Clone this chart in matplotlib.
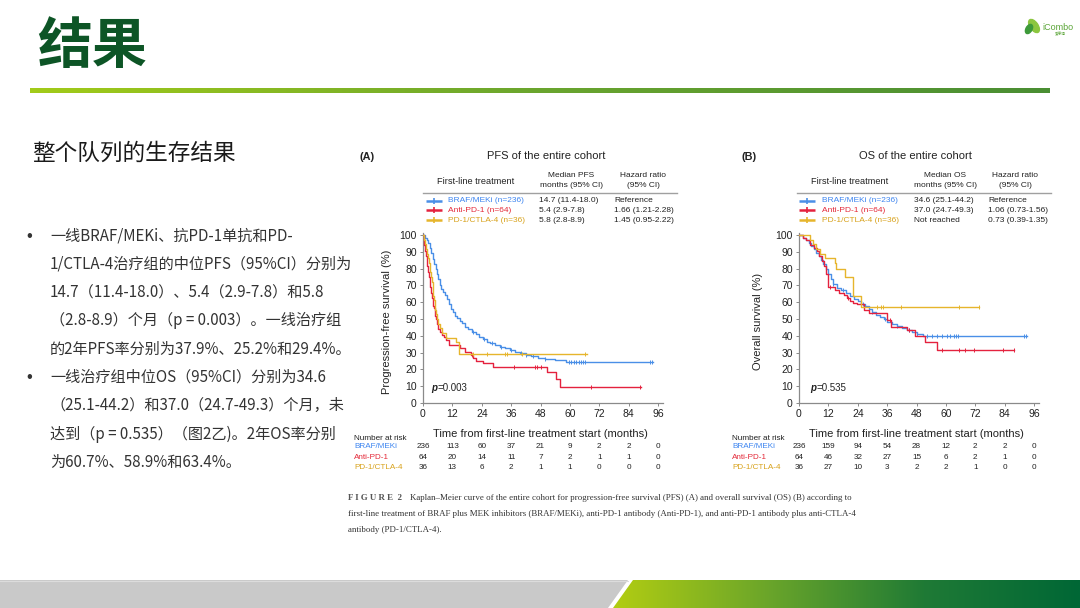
import numpy as np
import matplotlib
matplotlib.use("Agg")
import matplotlib.pyplot as plt
from matplotlib.patches import Polygon, Ellipse
from matplotlib.colors import LinearSegmentedColormap
import matplotlib.transforms as mtransforms

# ---------------- data ----------------
groups = ["BRAF/MEKi", "Anti-PD-1", "PD-1/CTLA-4"]
legend_labels = ["BRAF/MEKi (n=236)", "Anti-PD-1 (n=64)", "PD-1/CTLA-4 (n=36)"]
pfs_median = ["14.7 (11.4-18.0)", "5.4 (2.9-7.8)", "5.8 (2.8-8.9)"]
pfs_hr = ["Reference", "1.66 (1.21-2.28)", "1.45 (0.95-2.22)"]
os_median = ["34.6 (25.1-44.2)", "37.0 (24.7-49.3)", "Not reached"]
os_hr = ["Reference", "1.06 (0.73-1.56)", "0.73 (0.39-1.35)"]

x_ticks = [0, 12, 24, 36, 48, 60, 72, 84, 96]
y_ticks = [0, 10, 20, 30, 40, 50, 60, 70, 80, 90, 100]

# PFS curves (time in months, survival in %)
pfs_braf_t = [0, 0.8, 1.5, 2.2, 2.8, 3.4, 4.0, 4.6, 5.2, 5.8, 6.3, 6.8, 7.4, 8.2, 9.0, 10.0, 10.8,
              11.5, 12.2, 13.0, 14.0, 15.0, 16.0, 17.0, 18.5, 20.0, 21.5, 23.0, 24.5, 26.0, 27.5,
              29.5, 31.5, 33.5, 35.5, 37.5, 39.5, 42.0, 44.0, 47.0, 50.0, 54.0, 58.5]
pfs_braf_s = [100, 98.5, 97, 95, 92, 89, 86, 83, 80, 77, 74, 70, 68, 66, 64, 62, 59,
              56, 54, 52, 50.5, 49, 47.5, 45.5, 44, 42.5, 41, 39.5, 37.9, 36.6, 35.6,
              34.5, 33.2, 32.5, 31.7, 30.5, 29.5, 28.5, 27.7, 27, 26.2, 25.5, 24.2]
pfs_braf_end = 93.8
pfs_braf_cens = [20.5, 25, 28, 32, 36, 40, 42, 45, 50, 59.5, 60.5, 61.5, 62.5, 63.5, 64.5,
                 65.5, 66.2, 92.7, 93.7]

pfs_anti_t = [0, 0.3, 0.6, 0.9, 1.2, 1.5, 1.8, 2.1, 2.4, 2.7, 3.0, 3.3, 3.6, 3.9, 4.2, 4.5,
              4.8, 5.1, 5.4, 5.8, 6.3, 7.0, 7.8, 8.6, 9.5, 10.5, 15.2, 17.0, 19.5, 20.5, 21.5,
              24.5, 28.5, 50.5, 54.5, 56.0]
pfs_anti_s = [100, 96.9, 93.8, 90.6, 87.5, 84.4, 81.3, 78.1, 75, 71.9, 68.8, 65.6, 62.5, 59.4,
              57.8, 56.3, 53.1, 51.6, 50, 46.9, 43.8, 42.2, 40.6, 39.1, 37.5, 34.4, 32.8, 30.5,
              28.5, 26.5, 25.2, 23.8, 21.5, 18.2, 14.5, 9.6]
pfs_anti_end = 89.0
pfs_anti_cens = [20.0, 37.0, 45.8, 46.5, 48.0, 68.5, 88.7]

pfs_combo_t = [0, 0.4, 0.8, 1.2, 1.6, 2.0, 2.4, 2.7, 3.0, 3.3, 3.6, 3.9, 4.2, 4.6, 5.0, 5.4,
               5.8, 6.3, 6.9, 7.6, 9.5, 13.3, 14.6]
pfs_combo_s = [100, 97.2, 94.4, 91.7, 88.9, 86.1, 83.3, 80.6, 77.8, 75, 72.2, 66.7, 63.9, 61.1,
               55.6, 52.8, 50, 47.2, 44.4, 41.7, 38.9, 36.1, 29.4]
pfs_combo_end = 66.8
pfs_combo_cens = [20.6, 26.0, 33.5, 34.5, 40.3, 66.2]

# OS curves
os_braf_t = [0, 1.5, 2.8, 4.0, 5.0, 6.0, 7.0, 8.0, 9.0, 10.0, 11.0, 12.0, 13.0, 14.0, 15.5,
             17.0, 19.0, 21.0, 22.5, 24.0, 25.5, 27.0, 28.5, 30.0, 31.5, 33.0, 34.6, 36.0, 38.0,
             40.0, 42.0, 44.0, 46.0, 48.0, 50.5]
os_braf_s = [100, 98.5, 97, 95.5, 93.5, 91.5, 89.5, 87.5, 85, 82.5, 80, 77, 74, 71, 68.5,
             67, 65.5, 63.5, 62, 60.7, 59, 57.5, 56, 54.4, 52.5, 51, 49.8, 48.5, 47.3,
             46, 44.6, 43.2, 42, 41, 39.7]
os_braf_end = 93.0
os_braf_cens = [14, 18, 26, 30, 35, 40, 45, 48, 52.3, 54.4, 56.4, 58.4, 60.5, 61.8, 63.2,
                64.3, 65.0, 91.7, 92.6]

os_anti_t = [0, 1.5, 3.0, 4.5, 6.0, 7.2, 8.3, 9.3, 10.3, 11.2, 12.0, 14.5, 16.5, 18.5, 19.5,
             21.0, 22.2, 23.5, 26.5, 28.5, 36.0, 37.5, 44.0, 47.5, 51.5, 56.2]
os_anti_s = [100, 98.4, 96.9, 93.8, 92.2, 90.6, 87.5, 84.4, 81.3, 76.6, 68.8, 67.2, 65.6, 64.1,
             62.5, 61.0, 59.4, 58.9, 55.4, 53.5, 49.5, 45.3, 43.5, 39.6, 36.2, 31.8]
os_anti_end = 87.9
os_anti_cens = [12.5, 20, 37, 45, 58.4, 65.2, 67.9, 71.6, 83.5, 87.6]

os_combo_t = [0, 4.5, 5.8, 7.0, 8.5, 10.6, 14.6, 15.3, 18.7, 22.0, 25.5]
os_combo_s = [100, 97.2, 94.4, 91.7, 88.9, 86.1, 83.3, 79.6, 75.2, 63.4, 57.0]
os_combo_end = 73.6
os_combo_cens = [32.0, 33.4, 34.3, 41.5, 65.5, 73.4]

# numbers at risk
pfs_risk_braf = [236, 113, 60, 37, 21, 9, 2, 2, 0]
pfs_risk_anti = [64, 20, 14, 11, 7, 2, 1, 1, 0]
pfs_risk_combo = [36, 13, 6, 2, 1, 1, 0, 0, 0]
os_risk_braf = [236, 159, 94, 54, 28, 12, 2, 2, 0]
os_risk_anti = [64, 46, 32, 27, 15, 6, 2, 1, 0]
os_risk_combo = [36, 27, 10, 3, 2, 2, 1, 0, 0]

# slide text
slide_title = "结果"
subtitle = "整个队列的生存结果"
bullet_lines = [
    (True, "一线BRAF/MEKi、抗PD-1单抗和PD-"),
    (False, "1/CTLA-4治疗组的中位PFS（95%CI）分别为"),
    (False, "14.7（11.4-18.0）、5.4（2.9-7.8）和5.8"),
    (False, "（2.8-8.9）个月（p = 0.003）。一线治疗组"),
    (False, "的2年PFS率分别为37.9%、25.2%和29.4%。"),
    (True, "一线治疗组中位OS（95%CI）分别为34.6"),
    (False, "（25.1-44.2）和37.0（24.7-49.3）个月，未"),
    (False, "达到（p = 0.535）（图2乙)。2年OS率分别"),
    (False, "为60.7%、58.9%和63.4%。"),
]
caption_label = "F I G U R E  2"
caption_lines = [
    "Kaplan–Meier curve of the entire cohort for progression-free survival (PFS) (A) and overall survival (OS) (B) according to",
    "first-line treatment of BRAF plus MEK inhibitors (BRAF/MEKi), anti-PD-1 antibody (Anti-PD-1), and anti-PD-1 antibody plus anti-CTLA-4",
    "antibody (PD-1/CTLA-4).",
]

# ---------------- style ----------------
C_BLUE = "#4a8fe7"
C_RED = "#e4223e"
C_GOLD = "#e6b52c"
TXT_COLORS = ["#3f86f0", "#e42a3a", "#d8a21c"]
LINE_COLORS = [C_BLUE, C_RED, C_GOLD]
CJK = ["Noto Sans CJK SC", "DejaVu Sans"]
SANS = ["Liberation Sans", "DejaVu Sans"]
SERIF = ["Liberation Serif", "DejaVu Serif"]

W, H = 1080, 608
fig = plt.figure(figsize=(W / 100, H / 100), dpi=100)
fig.patch.set_facecolor("white")
bg = fig.add_axes([0, 0, 1, 1], zorder=0)
bg.set_xlim(0, W)
bg.set_ylim(H, 0)
bg.axis("off")


def frect(l, t, r, b):
    return [l / W, 1 - b / H, (r - l) / W, (b - t) / H]


# title + gradient rule
bg.text(37, 47, slide_title, family=CJK, fontsize=39.5, fontweight="bold",
        color="#0d5526", va="center", ha="left")
cm_rule = LinearSegmentedColormap.from_list("rule", ["#a2cb19", "#6aa52e", "#4a8e33"])
bg.imshow(np.linspace(0, 1, 256)[None, :], cmap=cm_rule, extent=(30, 1050, 93, 88),
          aspect="auto", interpolation="bilinear", zorder=1)

# logo
bg.add_patch(Ellipse((1034, 26), 8, 15, angle=-35, color="#8cc63f", zorder=2))
bg.add_patch(Ellipse((1029, 29), 6, 10, angle=30, color="#3e9a3a", zorder=2))
bg.text(1042, 27, "iCombo", family=SANS, fontsize=6.5, color="#5aa537", va="center", ha="left")
bg.text(1055, 34.5, "爱康博", family=CJK, fontsize=2.6, color="#5aa537", va="center", ha="left")

# subtitle + bullets
bg.text(32, 153, subtitle, family=CJK, fontsize=16.3, color="#1a1a1a", va="center", ha="left")
y0, dy = 236, 28.3
for i, (bul, line) in enumerate(bullet_lines):
    yy = y0 + i * dy
    if bul:
        bg.text(26, yy, "•", family=SANS, fontsize=12, color="#333333", va="center", ha="left")
    bg.text(50, yy, line, family=CJK, fontsize=10.9, color="#333333", va="center", ha="left")

# bottom bar
cm_bar = LinearSegmentedColormap.from_list("bar", ["#b2cd12", "#6aa52a", "#1f7a35", "#006736"])
green_poly = Polygon([(633, 580), (1080, 580), (1080, 608), (613, 608)], closed=True,
                     facecolor="none", edgecolor="none")
bg.add_patch(green_poly)
im = bg.imshow(np.linspace(0, 1, 256)[None, :], cmap=cm_bar, extent=(613, 1080, 608, 580),
               aspect="auto", interpolation="bilinear", zorder=1)
im.set_clip_path(green_poly)
bg.add_patch(Polygon([(0, 580), (628, 580), (608, 608), (0, 608)], closed=True,
                     facecolor="#c9c9c9", edgecolor="none", zorder=1))
bg.plot([0, 628], [580.5, 580.5], color="#dcdcdc", lw=0.8, zorder=2)
bg.set_xlim(0, W)
bg.set_ylim(H, 0)


# ---------------- KM panels ----------------
def header(letter, lx, title, tx, mcol_title, cx_first, cx_med, cx_hr, line_l, line_r,
           leg_x, lab_x, med_x, hr_x, med_vals, hr_vals):
    bg.text(lx, 157, letter, family=SANS, fontsize=7.8, fontweight="bold", color="#222",
            va="center", ha="left")
    bg.text(tx, 156, title, family=SANS, fontsize=8, color="#222", va="center", ha="center")
    bg.text(cx_first, 182, "First-line treatment", family=SANS, fontsize=6.6, color="#222",
            va="center", ha="center")
    bg.text(cx_med, 175.5, mcol_title, family=SANS, fontsize=6, color="#222", va="center",
            ha="center")
    bg.text(cx_med, 185.5, "months (95% CI)", family=SANS, fontsize=6, color="#222",
            va="center", ha="center")
    bg.text(cx_hr, 175.5, "Hazard ratio", family=SANS, fontsize=6, color="#222", va="center",
            ha="center")
    bg.text(cx_hr, 185.5, "(95% CI)", family=SANS, fontsize=6, color="#222", va="center",
            ha="center")
    bg.plot([line_l, line_r], [193, 193], color="#a0a0a0", lw=1.0)
    for i in range(3):
        yy = 200.5 + i * 9.8
        bg.plot([leg_x, leg_x + 16], [yy, yy], color=LINE_COLORS[i], lw=1.8,
                solid_capstyle="butt")
        bg.plot([leg_x + 8], [yy], marker="|", ms=4.5, mew=1.2, color=LINE_COLORS[i])
        bg.text(lab_x, yy, legend_labels[i], family=SANS, fontsize=6, color=TXT_COLORS[i],
                va="center", ha="left")
        bg.text(med_x, yy, med_vals[i], family=SANS, fontsize=6, color="#222", va="center",
                ha="left")
        bg.text(hr_x, yy, hr_vals[i], family=SANS, fontsize=6, color="#222", va="center",
                ha="left")


header("(A)", 359, "PFS of the entire cohort", 546, "Median PFS", 476, 571, 643, 423, 677,
       426, 448, 539, 614, pfs_median, pfs_hr)
header("(B)", 742, "OS of the entire cohort", 915, "Median OS", 850, 945, 1015, 797, 1051,
       799, 822, 914, 988, os_median, os_hr)


def km_panel(rect, curves, ylabel, ylab_x, pval, pval_x, risks, risk_lab_x):
    ax = fig.add_axes(frect(*rect), zorder=2)
    ax.set_facecolor("none")
    for (t, s, end, cens), col in zip(curves, LINE_COLORS):
        tt = list(t) + [end]
        ss = list(s) + [s[-1]]
        ax.step(tt, ss, where="post", color=col, lw=1.0, zorder=3)
        idx = np.searchsorted(np.array(t), np.array(cens), side="right") - 1
        ax.plot(cens, np.array(s)[idx], ls="none", marker="|", ms=3.2, mew=0.7, color=col,
                zorder=3)
    ax.set_xlim(0, 98)
    ax.set_ylim(0, 101.2)
    ax.set_xticks(x_ticks)
    ax.set_yticks(y_ticks)
    for sp in ["top", "right"]:
        ax.spines[sp].set_visible(False)
    for sp in ["left", "bottom"]:
        ax.spines[sp].set_color("#8a8a8a")
        ax.spines[sp].set_linewidth(0.9)
    ax.tick_params(length=2.5, width=0.7, color="#8a8a8a", labelsize=7.5, pad=2,
                   labelcolor="#222")
    for lab in ax.get_xticklabels() + ax.get_yticklabels():
        lab.set_family(SANS)
    ax.set_ylabel(ylabel, family=SANS, fontsize=8, color="#222")
    ax.yaxis.set_label_coords(ylab_x, 0.48)
    ax.set_xlabel("Time from first-line treatment start (months)", family=SANS, fontsize=8,
                  color="#222")
    ax.xaxis.set_label_coords(0.49, -0.155)
    ax.text(pval_x, 9.0, "p", family=SANS, fontsize=7, fontweight="bold", style="italic",
            color="#222", va="center", ha="left")
    ax.annotate(pval, xy=(pval_x, 9.0), xytext=(4.6, 0), textcoords="offset points",
                family=SANS, fontsize=7, color="#222", va="center", ha="left")
    # risk table
    trans = mtransforms.blended_transform_factory(ax.transData, fig.transFigure)
    bg.text(risk_lab_x, 438, "Number at risk", family=SANS, fontsize=5.9, color="#222",
            va="center", ha="left")
    for i, row in enumerate(risks):
        yy = 447 + i * 10.3
        bg.text(risk_lab_x, yy, groups[i], family=SANS, fontsize=5.9, color=TXT_COLORS[i],
                va="center", ha="left")
        for xt, v in zip(x_ticks, row):
            ax.text(xt, 1 - yy / H, str(v), transform=trans, family=SANS, fontsize=5.9,
                    color="#222", va="center", ha="center", clip_on=False)
    return ax


km_panel((423, 233, 663, 403),
         [(pfs_braf_t, pfs_braf_s, pfs_braf_end, pfs_braf_cens),
          (pfs_anti_t, pfs_anti_s, pfs_anti_end, pfs_anti_cens),
          (pfs_combo_t, pfs_combo_s, pfs_combo_end, pfs_combo_cens)],
         "Progression-free survival (%)", -0.13, "=0.003", 3.5,
         [pfs_risk_braf, pfs_risk_anti, pfs_risk_combo], 354)

km_panel((799, 233, 1039, 403),
         [(os_braf_t, os_braf_s, os_braf_end, os_braf_cens),
          (os_anti_t, os_anti_s, os_anti_end, os_anti_cens),
          (os_combo_t, os_combo_s, os_combo_end, os_combo_cens)],
         "Overall survival (%)", -0.15, "=0.535", 4.5,
         [os_risk_braf, os_risk_anti, os_risk_combo], 732)

# caption
lab = bg.text(348, 498, caption_label, family=SERIF, fontsize=6.4, fontweight="bold",
              color="#555", va="center", ha="left")
bg.annotate(caption_lines[0], xy=(1, 0.5), xycoords=lab, xytext=(6, 0),
            textcoords="offset points", family=SERIF, fontsize=6.4, color="#333",
            va="center", ha="left")
bg.text(348, 514, caption_lines[1], family=SERIF, fontsize=6.4, color="#333", va="center",
        ha="left")
bg.text(348, 530, caption_lines[2], family=SERIF, fontsize=6.4, color="#333", va="center",
        ha="left")

fig.savefig("out.png", dpi=100, facecolor="white")
